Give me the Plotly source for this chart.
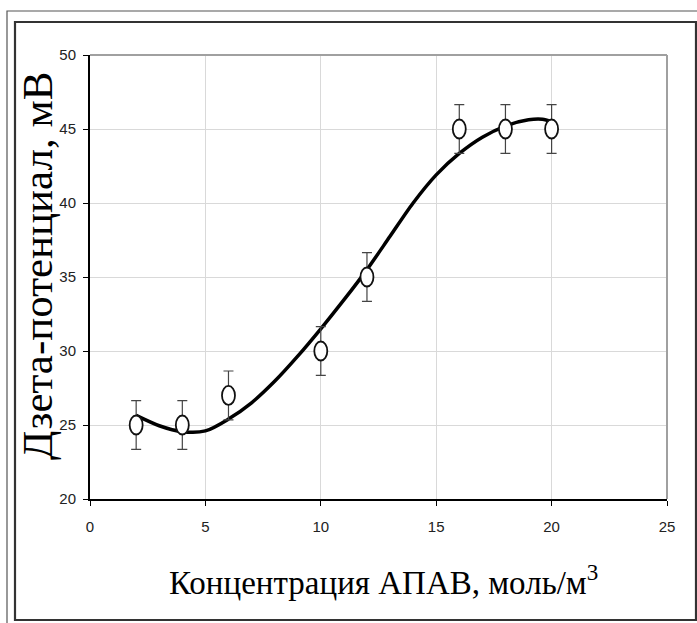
import plotly.graph_objects as go

# measured data
conc = [2, 4, 6, 10, 12, 16, 18, 20]
zeta = [25, 25, 27, 30, 35, 45, 45, 45]
err = [1.65, 1.65, 1.65, 1.65, 1.65, 1.65, 1.65, 1.65]

# fitted curve
fit_x = [2, 3, 4, 5, 6, 7, 8, 9, 10, 11, 12, 13, 14, 15, 16, 17, 18, 19, 19.6, 20]
fit_y = [25.65, 24.95, 24.55, 24.6, 25.4, 26.5, 27.95, 29.65, 31.5, 33.45, 35.5, 37.75, 40.0, 41.9, 43.35, 44.45, 45.2, 45.62, 45.66, 45.5]

x_ticks = [0, 5, 10, 15, 20, 25]
y_ticks = [20, 25, 30, 35, 40, 45, 50]

x_title = "Концентрация АПАВ, моль/м<sup>3</sup>"
y_title = "Дзета-потенциал, мВ"

tick_font = dict(family="Liberation Sans Narrow, Arial Narrow, Liberation Sans, Arial", size=15, color="#222")
title_font_family = "Liberation Serif, Times New Roman, serif"

fig = go.Figure()

fig.add_trace(go.Scatter(
    x=fit_x, y=fit_y, mode="lines",
    line=dict(color="black", width=3.5, shape="spline", smoothing=0.8),
    hoverinfo="skip", showlegend=False,
))

fig.add_trace(go.Scatter(
    x=conc, y=zeta, mode="markers",
    marker=dict(size=1, color="rgba(0,0,0,0)"),
    error_y=dict(type="data", array=err, visible=True, color="#444", thickness=1.2, width=5),
    showlegend=False,
))

shapes = []
# open elliptical markers at each data point
for xv, yv in zip(conc, zeta):
    shapes.append(dict(
        type="circle", xref="x", yref="y",
        xsizemode="pixel", ysizemode="pixel",
        xanchor=xv, yanchor=yv,
        x0=-6.5, x1=6.5, y0=-9.5, y1=9.5,
        line=dict(color="#111", width=1.8), fillcolor="white", layer="above",
    ))

# plot-area border (top and right, gray)
shapes.append(dict(type="line", xref="paper", yref="paper", x0=0, x1=1, y0=1, y1=1,
                   line=dict(color="#a0a0a0", width=2)))
shapes.append(dict(type="line", xref="paper", yref="paper", x0=1, x1=1, y0=0, y1=1,
                   line=dict(color="#a0a0a0", width=2)))

# frames around the whole picture
W0, W1 = 90.0, 667.0
H0, H1 = 499.0, 55.0
def px(xp):
    return (xp - W0) / (W1 - W0)
def py(yp):
    return (H0 - yp) / (H0 - H1)

shapes.append(dict(type="rect", xref="paper", yref="paper",
                   x0=px(7), x1=px(730), y0=py(11), y1=py(660),
                   line=dict(color="#555", width=1.2), layer="below"))
shapes.append(dict(type="rect", xref="paper", yref="paper",
                   x0=px(15), x1=px(696), y0=py(22), y1=py(620),
                   line=dict(color="#333", width=2.2), layer="below"))

annotations = [
    dict(text=x_title, xref="paper", yref="paper", x=px(383), y=py(580),
         xanchor="center", yanchor="middle", showarrow=False,
         font=dict(family=title_font_family, size=33, color="black")),
    dict(text=y_title, xref="paper", yref="paper", x=px(37), y=py(266),
         xanchor="center", yanchor="middle", showarrow=False, textangle=-90,
         font=dict(family=title_font_family, size=43, color="black")),
]

fig.update_layout(
    width=697, height=623,
    margin=dict(l=90, r=30, t=55, b=124),
    paper_bgcolor="white", plot_bgcolor="white",
    shapes=shapes, annotations=annotations,
    showlegend=False,
    xaxis=dict(range=[0, 25], tickvals=x_ticks, showgrid=True, gridcolor="#d9d9d9", gridwidth=1,
               showline=True, linecolor="black", linewidth=2, zeroline=False,
               ticks="outside", ticklen=5, tickcolor="black", tickwidth=1.2,
               tickfont=tick_font, ticklabelstandoff=8),
    yaxis=dict(range=[20, 50], tickvals=y_ticks, showgrid=True, gridcolor="#d9d9d9", gridwidth=1,
               showline=True, linecolor="black", linewidth=2, zeroline=False,
               ticks="outside", ticklen=5, tickcolor="black", tickwidth=1.2,
               tickfont=tick_font, ticklabelstandoff=4),
)

fig.write_html("out.html")
